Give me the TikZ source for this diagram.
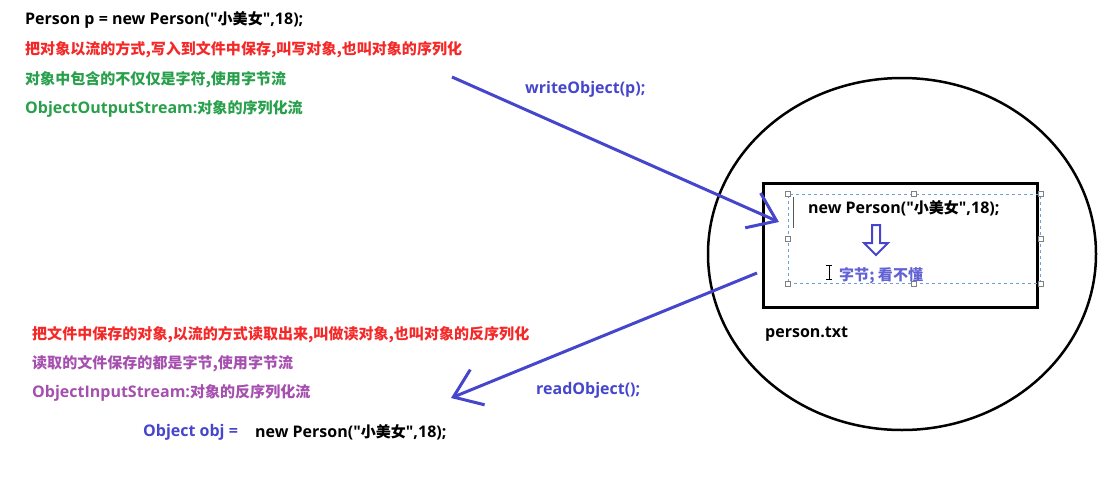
\documentclass[tikz,border=0pt]{standalone}
\usepackage{fontspec}
\setmainfont{Open Sans}[Ligatures=TeXOff]
\newfontfamily\cjk{Noto Sans CJK SC}[Scale=0.94, Ligatures=TeXOff]
\usepackage{tikz}
\usetikzlibrary{shapes.geometric, shapes.arrows, positioning, arrows.meta}
\definecolor{NoteRed}{RGB}{245,40,40}
\definecolor{NoteGreen}{RGB}{40,160,75}
\definecolor{NotePurple}{RGB}{165,80,175}
\definecolor{NoteBlue}{RGB}{70,70,205}
\definecolor{SelBlue}{RGB}{110,160,220}
\begin{document}
\begin{tikzpicture}[x=1pt, y=-1pt,
          txt/.style={anchor=west, inner sep=0pt, font=\fontsize{16}{18}\selectfont\bfseries},
          flow/.style={-{Straight Barb[length=26pt, width=38pt]}, draw=NoteBlue, line width=3pt},
          handle/.style={draw=gray, fill=white, line width=0.6pt, minimum size=5pt, inner sep=0pt}
        ]
        \useasboundingbox (0,0) rectangle (1114,488);

        % writing side
        \node[txt] (decl) at (25, 20) {Person p = new Person("{\cjk 小美女}",18);};
        \node[txt, text=NoteRed] (wr1) at (25, 50)
              {\cjk 把对象以流的方式,写入到文件中保存,叫写对象,也叫对象的序列化};
        \node[txt, text=NoteGreen] (wr2) at (25, 80) {\cjk 对象中包含的不仅仅是字符,使用字节流};
        \node[txt, text=NoteGreen] (wr3) at (25, 109) {ObjectOutputStream:{\cjk 对象的序列化流}};
        \node[txt, text=NoteBlue] (wcall) at (525, 89) {writeObject(p);};

        % the file
        \node[draw, line width=2.5pt, ellipse, minimum width=388pt, minimum height=352pt,
              inner sep=0pt] (disk) at (902, 254) {};
        \node[draw, line width=3pt, minimum width=274pt, minimum height=124pt,
              inner sep=0pt] (file) at (900, 245) {};
        \node[draw=SelBlue, dashed, line width=0.8pt, minimum width=252pt, minimum height=89pt,
              inner sep=0pt] (sel) at (914, 238.5) {};
        \foreach \a in {north west, north, north east, west, east, south west, south, south east}
          \node[handle] at (sel.\a) {};
        \node[txt] (obj) at (808, 208) {new Person("{\cjk 小美女}",18);};
        \node[single arrow, draw=NoteBlue, line width=2pt, shape border rotate=270,
              minimum width=24pt, minimum height=30pt, single arrow head extend=6pt,
              inner sep=2pt] (conv) at (876, 238) {};
        \node[txt, text=NoteBlue!85] (bytes) at (839, 276) {\cjk 字节; 看不懂};
        \draw[gray!70!black, line width=1pt] (793, 197) -- (793, 228);
        \draw[black, line width=0.8pt] (829, 265) -- (829, 279)
              (826, 265) -- (832, 265) (826, 279) -- (832, 279);
        \node[txt] (fname) at (765, 334) {person.txt};

        % reading side
        \node[txt, text=NoteRed] (rd1) at (32, 335)
              {\cjk 把文件中保存的对象,以流的方式读取出来,叫做读对象,也叫对象的反序列化};
        \node[txt, text=NotePurple] (rd2) at (32, 364) {\cjk 读取的文件保存的都是字节,使用字节流};
        \node[txt, text=NotePurple] (rd3) at (32, 393) {ObjectInputStream:{\cjk 对象的反序列化流}};
        \node[txt, text=NoteBlue] (rcall) at (536, 390) {readObject();};
        \node[txt, text=NoteBlue] (robj) at (143, 432) {Object obj =};
        \node[txt] (rnew) at (255, 432) {new Person("{\cjk 小美女}",18);};

        \coordinate (wfrom) at (452, 77);
        \coordinate (wto) at (779, 222);
        \coordinate (rfrom) at (757, 273);
        \coordinate (rto) at (451, 398);
        \draw[flow] (wfrom) -- (wto);
        \draw[flow] (rfrom) -- (rto);
      \end{tikzpicture}
\end{document}
